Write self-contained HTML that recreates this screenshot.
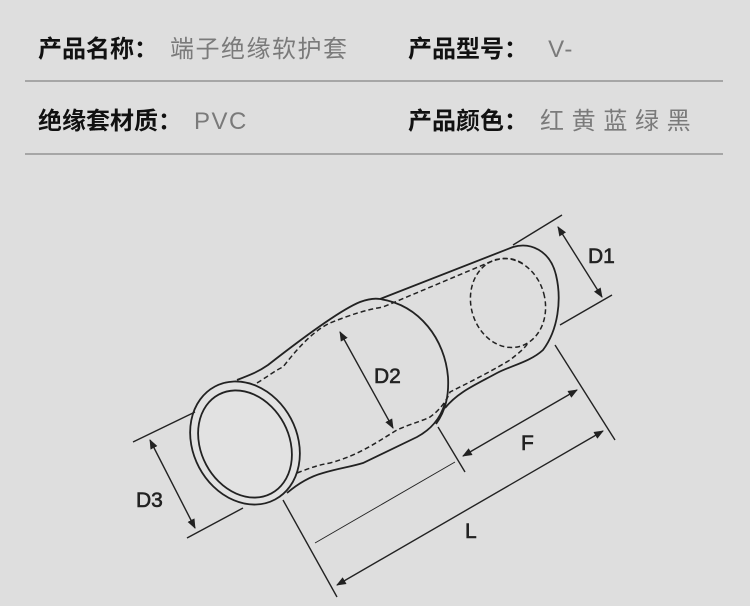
<!DOCTYPE html>
<html><head><meta charset="utf-8"><style>
body{margin:0;width:750px;height:606px;background:#dedede;overflow:hidden;font-family:"Liberation Sans","Noto Sans CJK SC",sans-serif;position:relative}
.t{position:absolute;font-size:24px;white-space:nowrap}
.t b{color:#111;font-weight:bold}
.t span{color:#7a7a7a;letter-spacing:1.5px;margin-left:12px}
.hr{position:absolute;left:25px;width:698px;height:2px;background:#a6a6a6}
</style></head><body>
<div class="t" style="left:38px;top:29px"><b>产品名称：</b><span>端子绝缘软护套</span></div>
<div class="t" style="left:408px;top:29px"><b>产品型号：</b><span>&nbsp;V-</span></div>
<div class="hr" style="top:80px"></div>
<div class="t" style="left:38px;top:101px"><b>绝缘套材质：</b><span>PVC</span></div>
<div class="t" style="left:408px;top:101px"><b>产品颜色：</b><span style="letter-spacing:0.5px">红 黄 蓝 绿 黑</span></div>
<div class="hr" style="top:153px"></div>
<svg width="750" height="606" style="position:absolute;left:0;top:0" fill="none" stroke="#222" stroke-width="1.8">
<defs><marker id="a" viewBox="0 0 10 10" refX="9" refY="5" markerWidth="7" markerHeight="7" orient="auto-start-reverse"><path d="M0,1 L10,5 L0,9 z" fill="#222" stroke="none"/></marker></defs>
<path d="M237,380 C250,375 258,372 268,365 C300,340 340,310 360,302 C368,299 374,298 380,299 L513,247 C530,242 550,250 556,275 C562,300 558,330 543,350 C530,362 510,366 497,373 C475,385 458,392 445,408"/>
<path d="M287,493 C300,482 312,476 323,473 C340,468 350,467 363,463 L417,437 C430,430 440,420 445,403"/>
<path d="M380,299 C420,305 445,340 448,377 C449,395 446,410 436,424"/>
<g stroke-dasharray="5,3" stroke-width="1.5">
<path d="M257,383 C270,375 276,370 283,367 C300,345 315,330 330,323 C350,315 365,310 383,307 L490,262 C505,256 515,258 525,265"/>
<path d="M297,473 C310,468 318,465 330,463 C360,455 380,440 397,430 C410,424 425,420 430,417 C440,410 447,400 450,392 C470,382 490,372 510,360 C520,352 525,348 528,343"/>
<ellipse cx="508" cy="303" rx="37" ry="45" transform="rotate(-15 508 303)"/>
</g>
<ellipse cx="245" cy="443" rx="52" ry="64" transform="rotate(-28 245 443)" fill="#e2e2e2"/>
<ellipse cx="245" cy="444" rx="44" ry="56" transform="rotate(-28 245 444)"/>
<g stroke-width="1.4">
<line x1="133" y1="442" x2="195" y2="412"/>
<line x1="187" y1="538" x2="243" y2="508"/>
<line x1="513" y1="245" x2="562" y2="215"/>
<line x1="560" y1="325" x2="612" y2="295"/>
<line x1="283" y1="500" x2="337" y2="597"/>
<line x1="438" y1="427" x2="465" y2="472"/>
<line x1="555" y1="345" x2="615" y2="440"/>
<line x1="150" y1="440" x2="195" y2="528" marker-start="url(#a)" marker-end="url(#a)"/>
<line x1="558" y1="227" x2="602" y2="297" marker-start="url(#a)" marker-end="url(#a)"/>
<line x1="340" y1="332" x2="393" y2="428" marker-start="url(#a)" marker-end="url(#a)"/>
<line x1="463" y1="456" x2="577" y2="390" marker-start="url(#a)" marker-end="url(#a)"/>
<line x1="337" y1="585" x2="603" y2="431" marker-start="url(#a)" marker-end="url(#a)"/>
<line x1="315" y1="543" x2="455" y2="462" stroke-width="0.9"/>
</g>
<g fill="#222" stroke="#222" stroke-width="0.6" font-family="Liberation Sans,sans-serif" font-size="21">
<text x="136" y="507">D3</text>
<text x="588" y="263">D1</text>
<text x="374" y="383">D2</text>
<text x="521" y="450">F</text>
<text x="465" y="538">L</text>
</g>
</svg>
</body></html>
